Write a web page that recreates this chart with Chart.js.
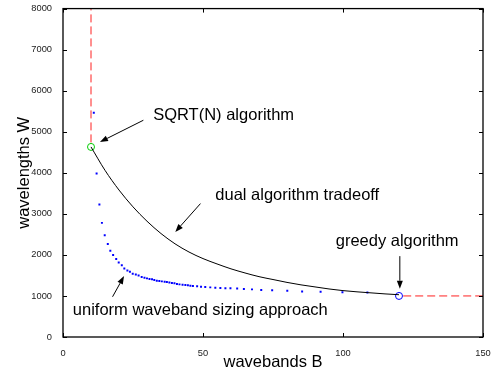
<!DOCTYPE html>
<html>
<head>
<meta charset="utf-8">
<script src="https://cdn.jsdelivr.net/npm/chart.js@4.4.0/dist/chart.umd.min.js"></script>
<style>
  html, body { margin: 0; padding: 0; background: #fff; }
  canvas { display: block; }
</style>
</head>
<body>
<canvas id="chart" width="496" height="376"></canvas>
<script>
// axis ticks
const xTicks = [0, 50, 100, 150];
const yTicks = [0, 1000, 2000, 3000, 4000, 5000, 6000, 7000, 8000];

// dual algorithm tradeoff curve
const tradeoffB = [10, 15, 20, 25, 30, 35, 40, 45, 50, 55, 60, 65, 70, 75, 80, 85, 90, 95, 100, 105, 110, 115, 120];
const tradeoffW = [4630, 4060, 3580, 3170, 2820, 2520, 2270, 2070, 1910, 1780, 1660, 1560, 1470, 1400, 1330, 1270, 1220, 1170, 1130, 1100, 1075, 1050, 1030];

// uniform waveband sizing approach (blue dots)
const uniformB = [11, 12, 13, 13.9, 14.9, 16, 16.9, 17.9, 19, 19.9,
  21, 21.9, 23, 23.9, 24.9, 26, 27, 28.1, 29.1, 30,
  30.9, 31.8, 32.6, 33.5, 34.4, 35.3, 36.3, 37.1, 38, 38.9,
  39.8, 40.7, 41.6, 42.7, 43.7, 44.6, 45.5, 46.4, 47.9, 49.3,
  50.8, 52.6, 54.4, 56.2, 58, 59.8, 62.2, 64.6, 67.5, 70.8,
  74.7, 80.1, 85.4, 92, 99.8, 108.7];
const uniformW = [5460, 3980, 3230, 2780, 2480, 2265, 2100, 2000, 1900, 1815,
  1745, 1670, 1620, 1590, 1540, 1525, 1500, 1462, 1445, 1428,
  1411, 1404, 1387, 1372, 1363, 1355, 1345, 1338, 1330, 1315,
  1307, 1292, 1282, 1272, 1265, 1258, 1250, 1241, 1234, 1226,
  1217, 1209, 1200, 1194, 1190, 1186, 1182, 1172, 1160, 1145,
  1136, 1125, 1110, 1100, 1090, 1085];

// the two end points and their limits
const sqrtPoint = { x: 10, y: 4630 };
const greedyPoint = { x: 120, y: 1000 };
const sqrtLimitB = [10, 10];
const sqrtLimitW = [4740, 8000];
const greedyLimitB = [121.5, 150];
const greedyLimitW = [1000, 1000];

// text labels with arrows, in data units
const notes = [
  { text: 'SQRT(N) algorithm', at: [32.2, 5400], from: [28.7, 5280], to: [13.2, 4750] },
  { text: 'dual algorithm tradeoff', at: [54.4, 3450], from: [49.1, 3250], to: [40.1, 2560] },
  { text: 'greedy algorithm', at: [97.4, 2334], from: [120.3, 1970], to: [120.3, 1175] },
  { text: 'uniform waveband sizing approach', at: [3.5, 640], from: [17.7, 980], to: [21.8, 1483] }
];

const FONT = '"Liberation Sans", Arial, Helvetica, sans-serif';

function pts(xs, ys) {
  return xs.map((x, i) => ({ x: x, y: ys[i] }));
}

// 枠線・内向きの目盛り・注釈を描く
const decorations = {
  id: 'decorations',
  afterDatasetsDraw(chart) {
    const { ctx, chartArea: a, scales: { x, y } } = chart;
    ctx.save();
    ctx.strokeStyle = '#000';
    ctx.lineWidth = 1;
    yTicks.forEach((v) => {
      const py = Math.round(y.getPixelForValue(v)) + 0.5;
      ctx.beginPath();
      ctx.moveTo(a.left, py); ctx.lineTo(a.left + 4, py);
      ctx.moveTo(a.right, py); ctx.lineTo(a.right - 4, py);
      ctx.stroke();
    });
    xTicks.forEach((v) => {
      const px = Math.round(x.getPixelForValue(v)) + 0.5;
      ctx.beginPath();
      ctx.moveTo(px, a.bottom); ctx.lineTo(px, a.bottom - 4);
      ctx.moveTo(px, a.top); ctx.lineTo(px, a.top + 4);
      ctx.stroke();
    });
    ctx.lineWidth = 1.3;
    ctx.strokeRect(a.left, a.top, a.right - a.left, a.bottom - a.top);

    ctx.fillStyle = '#000';
    ctx.font = '16.5px ' + FONT;
    ctx.textBaseline = 'middle';
    ctx.textAlign = 'left';
    ctx.lineWidth = 1;
    notes.forEach((n) => {
      ctx.fillText(n.text, x.getPixelForValue(n.at[0]), y.getPixelForValue(n.at[1]));
      const x0 = x.getPixelForValue(n.from[0]), y0 = y.getPixelForValue(n.from[1]);
      const x1 = x.getPixelForValue(n.to[0]), y1 = y.getPixelForValue(n.to[1]);
      const ang = Math.atan2(y1 - y0, x1 - x0);
      const len = 8, half = 3;
      ctx.beginPath();
      ctx.moveTo(x0, y0);
      ctx.lineTo(x1 - Math.cos(ang) * len, y1 - Math.sin(ang) * len);
      ctx.stroke();
      ctx.beginPath();
      ctx.moveTo(x1, y1);
      ctx.lineTo(x1 - Math.cos(ang) * len - Math.sin(ang) * half, y1 - Math.sin(ang) * len + Math.cos(ang) * half);
      ctx.lineTo(x1 - Math.cos(ang) * len + Math.sin(ang) * half, y1 - Math.sin(ang) * len - Math.cos(ang) * half);
      ctx.closePath();
      ctx.fill();
    });
    ctx.restore();
  }
};

new Chart(document.getElementById('chart'), {
  type: 'scatter',
  data: {
    datasets: [
      {
        label: 'SQRT(N) limit',
        data: pts(sqrtLimitB, sqrtLimitW),
        showLine: true,
        borderColor: '#ff2020',
        borderWidth: 1,
        borderDash: [8, 4],
        pointRadius: 0
      },
      {
        label: 'greedy limit',
        data: pts(greedyLimitB, greedyLimitW),
        showLine: true,
        borderColor: '#ff2020',
        borderWidth: 1,
        borderDash: [8, 4],
        pointRadius: 0
      },
      {
        label: 'dual algorithm tradeoff',
        data: pts(tradeoffB, tradeoffW),
        showLine: true,
        borderColor: '#000',
        borderWidth: 1,
        pointRadius: 0,
        cubicInterpolationMode: 'monotone'
      },
      {
        label: 'uniform waveband sizing approach',
        data: pts(uniformB, uniformW),
        pointStyle: 'rect',
        pointRadius: 1.4,
        backgroundColor: '#0000ff',
        borderWidth: 0
      },
      {
        label: 'SQRT(N) algorithm',
        data: [sqrtPoint],
        pointRadius: 3.5,
        borderColor: '#00cc00',
        backgroundColor: 'rgba(0,0,0,0)',
        borderWidth: 1
      },
      {
        label: 'greedy algorithm',
        data: [greedyPoint],
        pointRadius: 3.5,
        borderColor: '#0000ff',
        backgroundColor: 'rgba(0,0,0,0)',
        borderWidth: 1
      }
    ]
  },
  options: {
    responsive: false,
    animation: false,
    layout: { padding: { top: 8, right: 13, left: 0, bottom: 0 } },
    plugins: {
      legend: { display: false },
      tooltip: { enabled: false }
    },
    scales: {
      x: {
        type: 'linear',
        min: 0,
        max: 150,
        afterBuildTicks: (s) => { s.ticks = xTicks.map((v) => ({ value: v })); },
        afterFit: (s) => { s.height = 39; },
        grid: { display: false },
        border: { display: false },
        ticks: { padding: 3, color: '#222', font: { family: FONT, size: 9.3 }, callback: (v) => String(v) },
        title: {
          display: true,
          text: 'wavebands B',
          color: '#000',
          font: { family: FONT, size: 16.5 },
          padding: { top: 0, bottom: 4 }
        }
      },
      y: {
        type: 'linear',
        min: 0,
        max: 8000,
        afterBuildTicks: (s) => { s.ticks = yTicks.map((v) => ({ value: v })); },
        afterFit: (s) => { s.width = 63; },
        grid: { display: false },
        border: { display: false },
        ticks: { padding: 3, color: '#222', font: { family: FONT, size: 9.3 }, callback: (v) => String(v) },
        title: {
          display: true,
          text: 'wavelengths W',
          color: '#000',
          font: { family: FONT, size: 16.5 },
          padding: { top: 15, bottom: 0 }
        }
      }
    }
  },
  plugins: [decorations]
});
</script>
</body>
</html>
